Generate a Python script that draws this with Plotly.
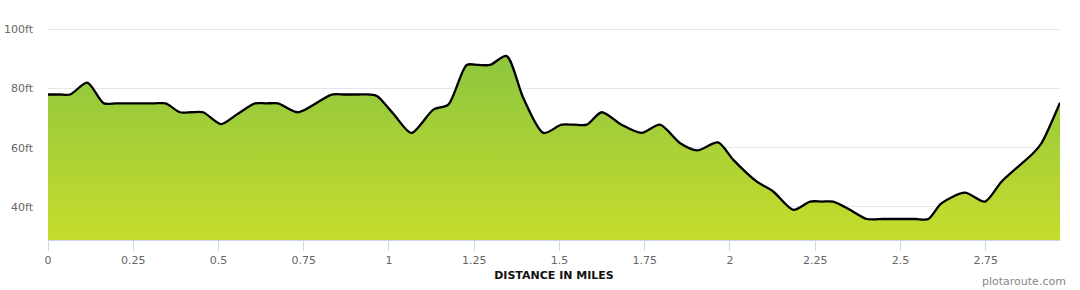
import plotly.graph_objects as go

# distance (miles) and elevation (ft)
distance = [0.0, 0.035, 0.065, 0.115, 0.164, 0.2, 0.255, 0.31, 0.345, 0.387, 0.42, 0.455,
            0.507, 0.553, 0.607, 0.64, 0.675, 0.732, 0.832, 0.87, 0.91, 0.945, 0.965,
            1.013, 1.066, 1.13, 1.174, 1.228, 1.262, 1.296, 1.345, 1.394, 1.453, 1.506,
            1.543, 1.58, 1.624, 1.682, 1.741, 1.795, 1.853, 1.904, 1.965, 2.01, 2.078,
            2.127, 2.186, 2.235, 2.27, 2.303, 2.352, 2.401, 2.45, 2.5, 2.545, 2.582,
            2.62, 2.689, 2.748, 2.797, 2.89, 2.914, 2.968]
elevation = [78, 78, 78, 82, 75, 75, 75, 75, 75, 72, 72, 72,
             68, 71.2, 75, 75, 75, 72, 78, 78, 78, 78, 77.5,
             71.5, 65, 72.9, 74.6, 88, 88, 88, 91, 76.8, 65, 67.8,
             67.8, 67.8, 72, 67.8, 65, 67.8, 61.6, 59.1, 61.8, 55.9, 48.6,
             45.2, 39, 41.8, 41.8, 41.8, 39, 35.9, 35.9, 35.9, 35.9, 35.9,
             41.2, 44.8, 41.8, 48.6, 58.2, 61.6, 75.2]

x_ticks = [0, 0.25, 0.5, 0.75, 1, 1.25, 1.5, 1.75, 2, 2.25, 2.5, 2.75]
x_tick_labels = ["0", "0.25", "0.5", "0.75", "1", "1.25", "1.5", "1.75", "2", "2.25", "2.5", "2.75"]
y_ticks = [40, 60, 80, 100]
y_tick_labels = ["40ft", "60ft", "80ft", "100ft"]

y_min, y_max = 28.8, 103.2

fig = go.Figure()
fig.add_trace(go.Scatter(
    x=distance, y=elevation,
    mode="lines",
    line=dict(color="#000000", width=2.3, shape="spline", smoothing=0.75),
    fill="tozeroy",
    fillgradient=dict(type="vertical", start=y_min, stop=95,
                      colorscale=[[0, "#c6dc2c"], [1, "#89c440"]]),
    hoverinfo="skip",
    showlegend=False,
))

fig.update_layout(
    width=1080, height=290,
    margin=dict(l=48, r=20, t=20, b=50),
    paper_bgcolor="white", plot_bgcolor="white",
    font=dict(family="DejaVu Sans", size=11, color="#666666"),
    xaxis=dict(
        range=[0, 2.968], automargin=False,
        tickvals=x_ticks, ticktext=x_tick_labels,
        showgrid=False, zeroline=False,
        showline=True, linecolor="#ccd6eb", linewidth=1,
        ticks="outside", ticklen=10, tickcolor="#ccd6eb", tickwidth=1,
        tickfont=dict(size=11, color="#666666"),
        title=dict(text="<b>DISTANCE IN MILES</b>", font=dict(size=11, color="#111111"), standoff=5),
    ),
    yaxis=dict(
        range=[y_min, y_max], automargin=False,
        tickvals=y_ticks, ticktext=y_tick_labels,
        showgrid=True, gridcolor="#e6e6e6", gridwidth=1,
        zeroline=False, showline=False,
        ticks="", ticklabelstandoff=14,
        tickfont=dict(size=11, color="#666666"),
    ),
    annotations=[dict(
        text="plotaroute.com", xref="paper", yref="paper",
        x=1.008, y=-0.19, xanchor="right", yanchor="middle",
        showarrow=False, font=dict(size=11, color="#888888"),
    )],
)

fig.write_html("out.html")
